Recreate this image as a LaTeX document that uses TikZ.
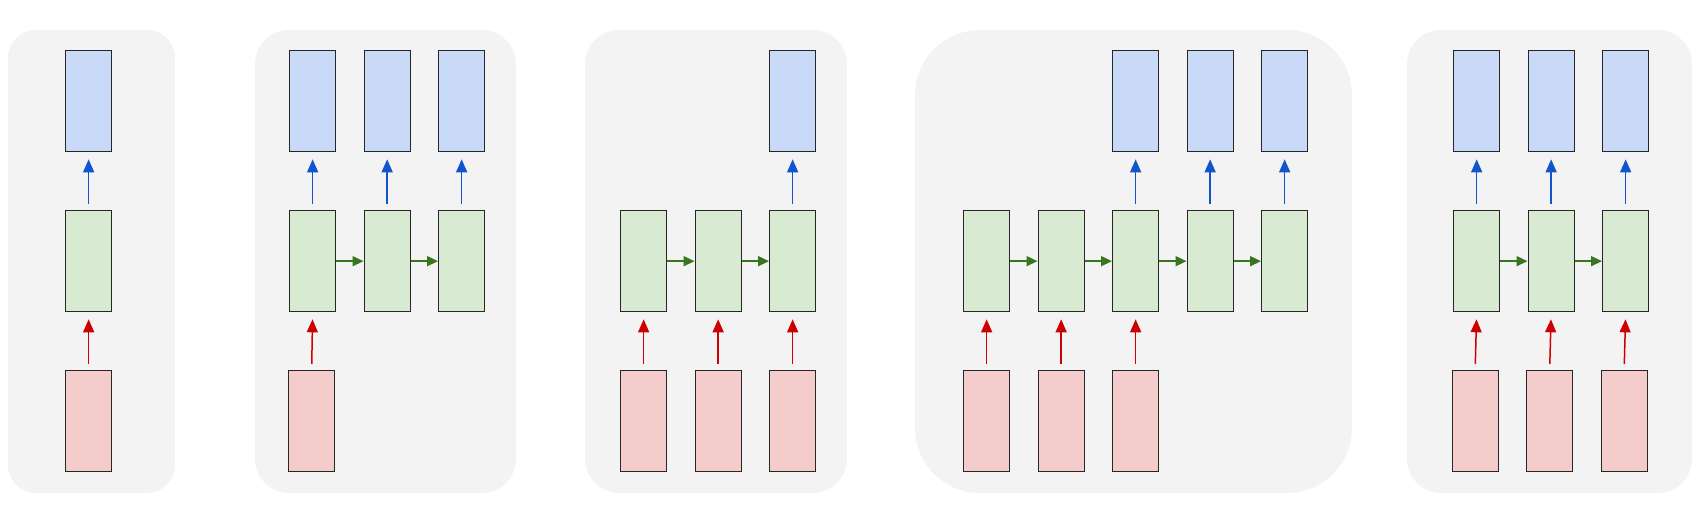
\documentclass[tikz,border=0pt]{standalone}
\usetikzlibrary{arrows.meta}
\definecolor{panel}{HTML}{F3F3F3}
\definecolor{bfill}{HTML}{C9DAF8}
\definecolor{gfill}{HTML}{D9EAD3}
\definecolor{rfill}{HTML}{F4CCCC}
\definecolor{barr}{HTML}{1155CC}
\definecolor{rarr}{HTML}{CC0000}
\definecolor{garr}{HTML}{38761D}
\begin{document}
\begin{tikzpicture}[x=1pt,y=-1pt,
  box/.style={draw=black!85,line width=1.3pt,minimum width=46pt,minimum height=101pt,inner sep=0pt,anchor=north west},
  obox/.style={box,fill=bfill}, hbox/.style={box,fill=gfill}, ibox/.style={box,fill=rfill},
  tip/.style={-{Triangle[length=13pt,width=11pt]},line width=1.5pt},
  up/.style={tip,shorten >=7pt,shorten <=6pt},
  ba/.style={up,draw=barr}, ra/.style={up,draw=rarr},
  ga/.style={draw=garr,line width=1.6pt,-{Triangle[length=11pt,width=10pt]}},
  pnl/.style={fill=panel}]
\useasboundingbox (0,0) rectangle (1708,512);
\fill[pnl,rounded corners=28pt] (8,30) rectangle (175,493);
\fill[pnl,rounded corners=34pt] (255,30) rectangle (516,493);
\fill[pnl,rounded corners=34pt] (585,30) rectangle (847,493);
\fill[pnl,rounded corners=65pt] (915,30) rectangle (1352,493);
\fill[pnl,rounded corners=34pt] (1407,30) rectangle (1692,493);
% panel 1
\node[obox] (a1o) at (65,50) {};
\node[hbox] (a1h) at (65,210) {};
\node[ibox] (a1i) at (65,370) {};
\draw[ba] (a1h.north) -- (a1o.south);
\draw[ra] (a1i.north) -- (a1h.south);
% panel 2
\foreach \i/\x in {1/289,2/363.5,3/438}{
  \node[obox] (b\i o) at (\x,50) {};
  \node[hbox] (b\i h) at (\x,210) {};
  \draw[ba] (b\i h.north) -- (b\i o.south);}
\node[ibox] (b1i) at (288,370) {};
\draw[ra] (b1i.north) -- (b1h.south);
\draw[ga] (b1h.east) -- (b2h.west);
\draw[ga] (b2h.east) -- (b3h.west);
% panel 3
\foreach \i/\x in {1/620,2/694.5,3/769}{
  \node[hbox] (c\i h) at (\x,210) {};
  \node[ibox] (c\i i) at (\x,370) {};
  \draw[ra] (c\i i.north) -- (c\i h.south);}
\node[obox] (c3o) at (769,50) {};
\draw[ba] (c3h.north) -- (c3o.south);
\draw[ga] (c1h.east) -- (c2h.west);
\draw[ga] (c2h.east) -- (c3h.west);
% panel 4
\foreach \i/\x in {1/963,2/1037.5,3/1112,4/1186.5,5/1261}{
  \node[hbox] (d\i h) at (\x,210) {};}
\foreach \i/\x in {1/963,2/1037.5,3/1112}{
  \node[ibox] (d\i i) at (\x,370) {};
  \draw[ra] (d\i i.north) -- (d\i h.south);}
\foreach \i/\x in {3/1112,4/1186.5,5/1261}{
  \node[obox] (d\i o) at (\x,50) {};
  \draw[ba] (d\i h.north) -- (d\i o.south);}
\foreach \i/\j in {1/2,2/3,3/4,4/5}{\draw[ga] (d\i h.east) -- (d\j h.west);}
% panel 5
\foreach \i/\x in {1/1453,2/1527.5,3/1602}{
  \node[obox] (e\i o) at (\x,50) {};
  \node[hbox] (e\i h) at (\x,210) {};
  \node[ibox] (e\i i) at (\x-1.5,370) {};
  \draw[ba] (e\i h.north) -- (e\i o.south);
  \draw[ra] (e\i i.north) -- (e\i h.south);}
\draw[ga] (e1h.east) -- (e2h.west);
\draw[ga] (e2h.east) -- (e3h.west);
\end{tikzpicture}
\end{document}
